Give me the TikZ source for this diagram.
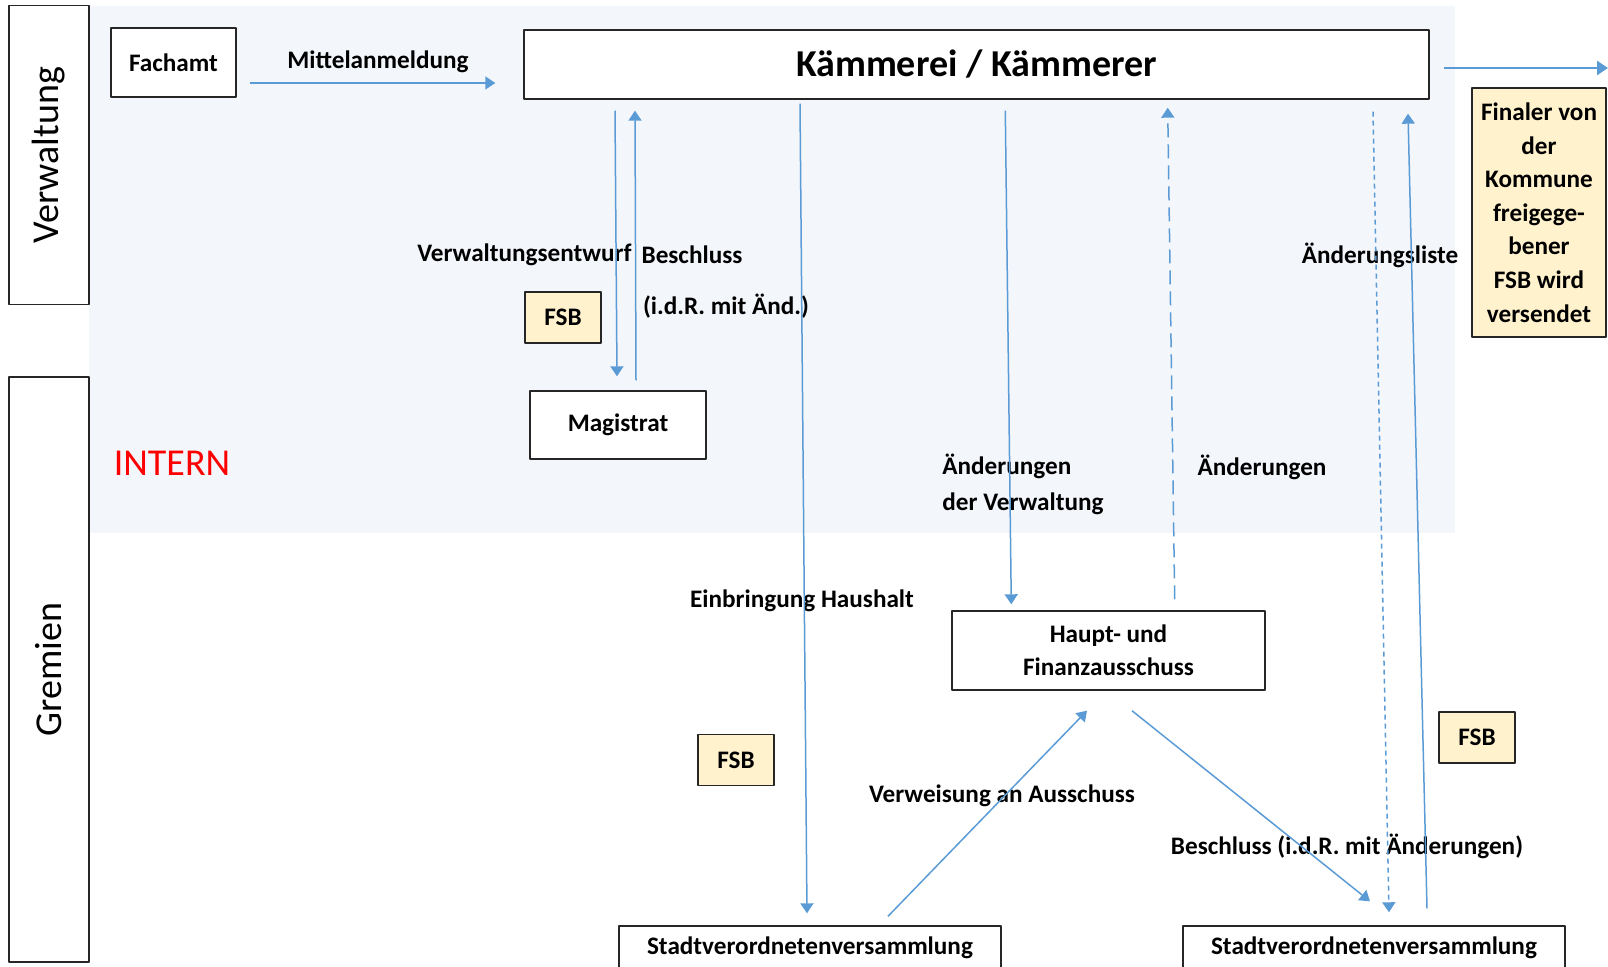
\documentclass[tikz,border=0pt]{standalone}
\usepackage{fontspec}
\setmainfont{Carlito}
\usetikzlibrary{arrows.meta,calc}
\definecolor{flowblue}{RGB}{91,155,213}
\definecolor{lanebg}{RGB}{243,246,251}
\definecolor{fsbyellow}{RGB}{255,242,204}
\definecolor{boxline}{RGB}{38,38,38}
\newcommand\labfont{\fontsize{12.6}{17}\selectfont\bfseries}
\newcommand\bigfont{\fontsize{19}{23}\selectfont}
\tikzset{
  box/.style={draw=boxline, line width=0.7pt, fill=white, inner sep=0pt, align=center, font=\labfont},
  fsb/.style={box, fill=fsbyellow, minimum width=38pt, minimum height=25.5pt},
  lane/.style={draw=boxline, line width=0.7pt, inner sep=0pt, rotate=90, minimum height=40pt, font=\bigfont},
  lbl/.style={inner sep=0pt, font=\labfont},
  flow/.style={draw=flowblue, line width=0.75pt, -{Triangle[width=6.5pt,length=5pt]}},
}
\begin{document}
\begin{tikzpicture}[x=0.5pt,y=-0.5pt, line join=round]
  \clip (0,0) rectangle (1608,967);
  \fill[lanebg] (89,6) rectangle (1455,533);
  % Bereiche
  \node[lane, minimum width=149.5pt] (verw) at (49,155) {Verwaltung};
  \node[lane, minimum width=292.5pt] (grem) at (49,669.5) {Gremien};
  \node[inner sep=0pt, font=\bigfont, text=red] (intern) at (172,463) {INTERN};
  % Stellen
  \node[box, minimum width=62.5pt, minimum height=34.5pt] (fachamt) at (173.5,62.5) {Fachamt};
  \node[box, minimum width=452.5pt, minimum height=34.5pt, font=\fontsize{19}{23}\selectfont\bfseries] (kaemmerei) at (976.5,64.5) {Kämmerei / Kämmerer};
  \node[box, fill=fsbyellow, minimum width=67pt, minimum height=124.5pt, font=\fontsize{12.6}{16.8}\selectfont\bfseries] (finaler) at (1539,212.5)
    {Finaler von\\der\\Kommune\\freigege-\\bener\\FSB wird\\versendet};
  \node[box, minimum width=88pt, minimum height=34pt] (magistrat) at (618,425) {Magistrat};
  \node[box, minimum width=156.5pt, minimum height=39.5pt, font=\fontsize{12.6}{16.4}\selectfont\bfseries] (hfa) at (1108.5,650.5) {Haupt- und\\Finanzausschuss};
  \node[box, minimum width=191pt, minimum height=22pt] (svv1) at (810,948) {Stadtverordnetenversammlung};
  \node[box, minimum width=191pt, minimum height=22pt] (svv2) at (1374,948) {Stadtverordnetenversammlung};
  \node[fsb] (fsb1) at (563,317.5) {FSB};
  \node[fsb] (fsb2) at (736,760) {FSB};
  \node[fsb] (fsb3) at (1477,737.5) {FSB};
  % Beschriftungen
  \node[lbl] (mittel) at (378,62) {Mittelanmeldung};
  \node[lbl] (entwurf) at (524.5,255) {Verwaltungsentwurf};
  \node[lbl] (beschl1) at (692,255) {Beschluss};
  \node[lbl] (idr) at (726,306) {(i.d.R. mit Änd.)};
  \node[lbl] (einbr) at (802,601) {Einbringung Haushalt};
  \node[lbl, anchor=west, align=left, font=\fontsize{12.6}{18}\selectfont\bfseries] (aendvw) at (942,484.5) {Änderungen\\der Verwaltung};
  \node[lbl] (aend) at (1262,467) {Änderungen};
  \node[lbl] (liste) at (1380,255) {Änderungsliste};
  \node[lbl] (verweis) at (1002,796) {Verweisung an Ausschuss};
  \node[lbl] (beschl2) at (1347,846) {Beschluss (i.d.R. mit Änderungen)};
  \coordinate (out) at (1608,68);
  % Pfeile
  \draw[flow] ($(fachamt.east)+(13,20.5)$) -- ($(kaemmerei.west)+(-28,18.5)$);
  \draw[flow] ($(magistrat.north |- kaemmerei.south)+(-3,11)$) -- ($(magistrat.north)+(-1,-14)$);
  \draw[flow] ($(magistrat.north)+(18,-10)$) -- ($(magistrat.north |- kaemmerei.south)+(17,11)$);
  \draw[flow] ($(svv1.north |- kaemmerei.south)+(-10,4)$) -- ($(svv1.north)+(-3,-12)$);
  \draw[flow] ($(hfa.north west |- kaemmerei.south)+(54,11)$) -- ($(hfa.north west)+(60,-6)$);
  \draw[flow, dash pattern=on 7pt off 3.5pt] ($(hfa.north east)+(-91,-11)$) -- ($(hfa.north east |- kaemmerei.south)+(-98,8)$);
  \draw[flow] ($(svv1.north)+(78,-9)$) -- ($(hfa.south)+(-21.5,20)$);
  \draw[flow] ($(hfa.south)+(23.5,20)$) -- ($(svv2.north)+(-4,-24)$);
  \draw[flow, dash pattern=on 2.5pt off 2pt] ($(svv2.north |- kaemmerei.south)+(-1,12)$) -- ($(svv2.north)+(15,-13)$);
  \draw[flow] ($(svv2.north)+(53,-17)$) -- ($(svv2.north |- kaemmerei.south)+(34,14)$);
  \draw[flow, line width=1.4pt, -{Triangle[width=7pt,length=5.5pt]}] ($(kaemmerei.east)+(14,3.5)$) -- (out);
\end{tikzpicture}
\end{document}
